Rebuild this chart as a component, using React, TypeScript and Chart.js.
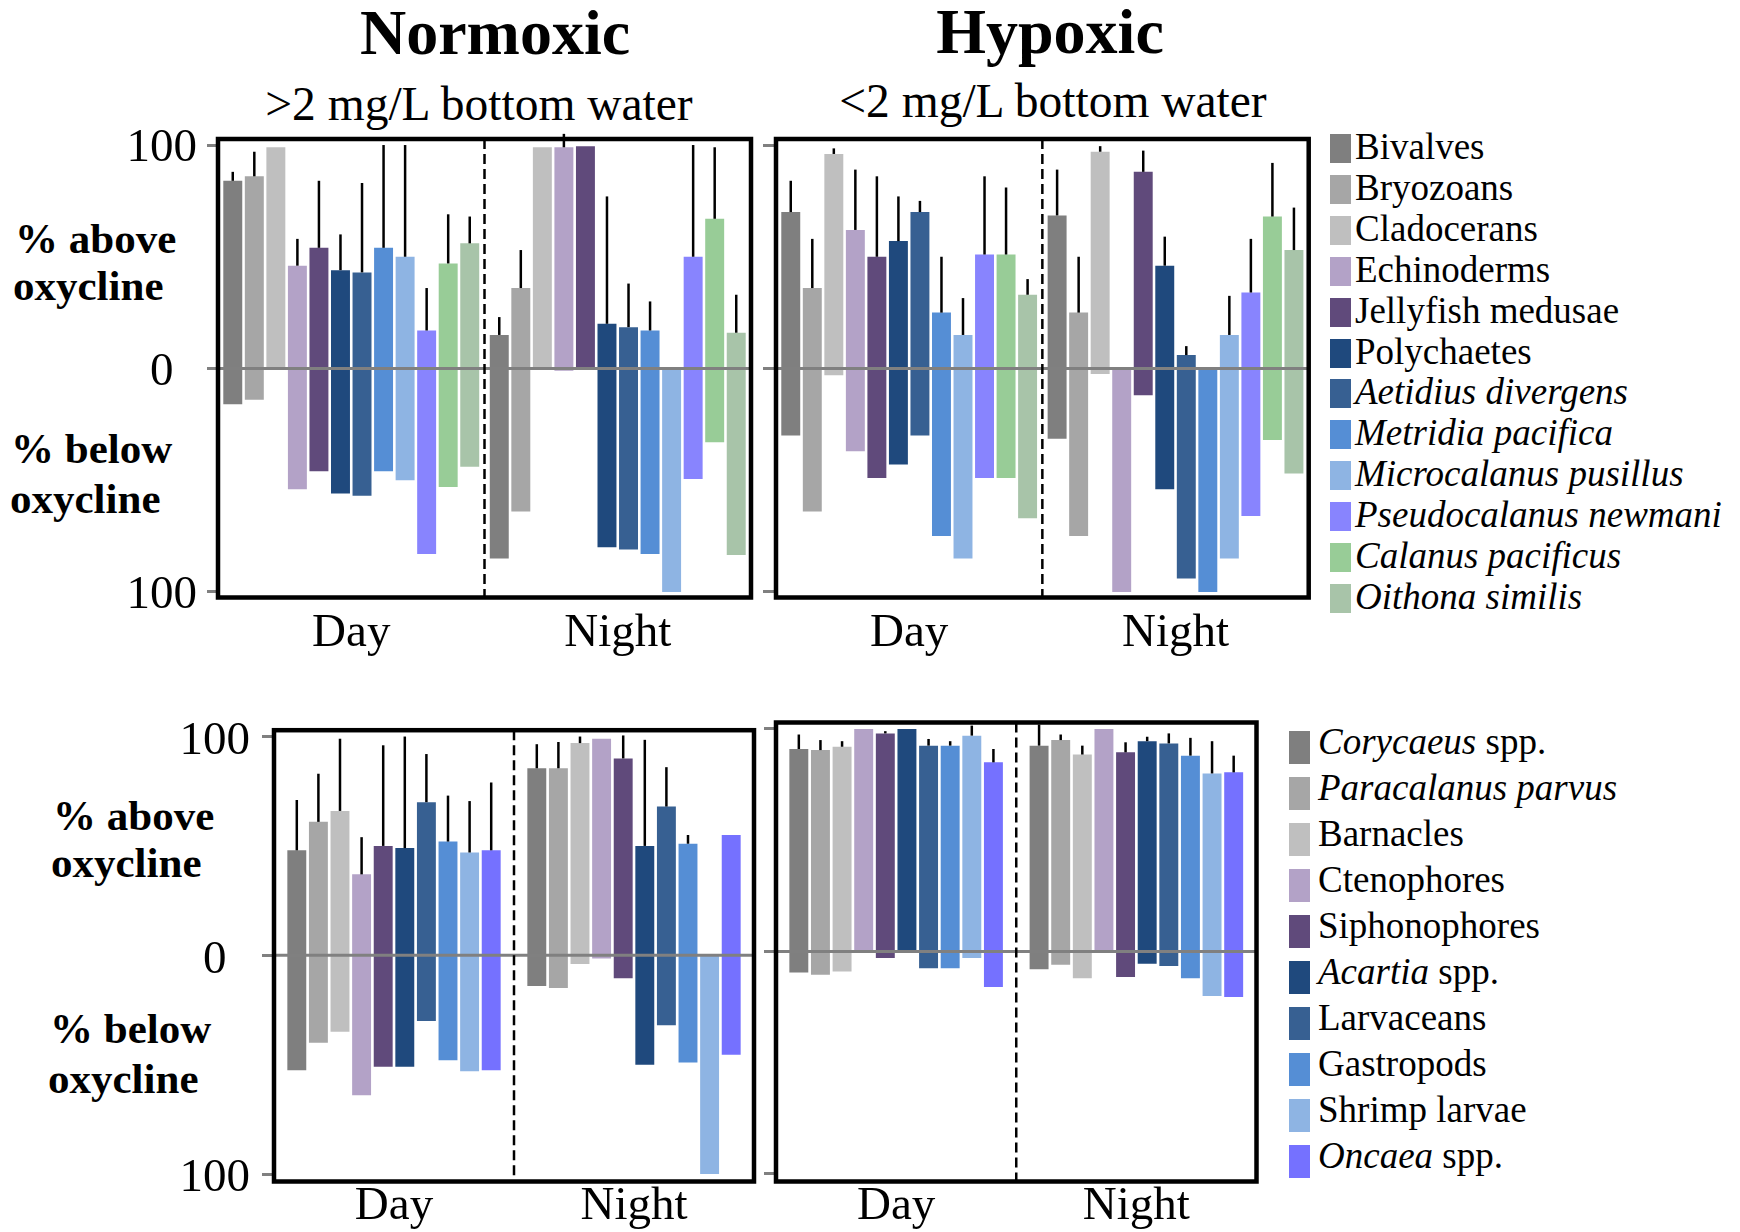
import React, { useEffect, useRef } from "react";
import { Chart, registerables } from "chart.js";

Chart.register(...registerables);

const FONT = "'Liberation Serif', 'Times New Roman', Times, serif";

// ---------- categories & ticks ----------
const periods = ["Day", "Night"];
const yTickValues = [-100, 0, 100];

// ---------- species (asterisks mark italic text) ----------
const topSpecies = [
  "Bivalves", "Bryozoans", "Cladocerans", "Echinoderms", "Jellyfish medusae", "Polychaetes",
  "*Aetidius divergens*", "*Metridia pacifica*", "*Microcalanus pusillus*",
  "*Pseudocalanus newmani*", "*Calanus pacificus*", "*Oithona similis*",
];
const topColors = [
  "#7f7f7f", "#a6a6a6", "#bfbfbf", "#b3a2c7", "#604a7b", "#1f497d",
  "#376092", "#558ed5", "#8eb4e3", "#8884fe", "#98cc97", "#a8c4a9",
];
const bottomSpecies = [
  "*Corycaeus* spp.", "*Paracalanus parvus*", "Barnacles", "Ctenophores", "Siphonophores",
  "*Acartia* spp.", "Larvaceans", "Gastropods", "Shrimp larvae", "*Oncaea* spp.",
];
const bottomColors = [
  "#7f7f7f", "#a6a6a6", "#bfbfbf", "#b3a2c7", "#604a7b",
  "#1f497d", "#376092", "#558ed5", "#8eb4e3", "#7571ff",
];

// ---------- values: % above oxycline (bar top), bar bottom (= -% below), error-bar top ----------
// Top row, Normoxic
const normDayAbove = [84, 86, 99, 46, 54, 44, 43, 54, 50, 17, 47, 56];
const normDayBelow = [-16, -14, 0, -54, -46, -56, -57, -46, -50, -83, -53, -44];
const normDayErr = [88, 97, null, 58, 84, 60, 83, 100, 100, 36, 69, 68];
const normNightAbove = [15, 36, 99, 99, 99.5, 20, 18.5, 17, 0, 50, 67, 16];
const normNightBelow = [-85, -64, 0, -1, 0, -80, -81, -83, -100, -49.5, -33, -83.5];
const normNightErr = [23, 53, null, 105, null, 77, 38, 30, null, 100, 99, 33];
// Top row, Hypoxic
const hypDayAbove = [70, 36, 96, 62, 50, 57, 70, 25, 15, 51, 51, 33];
const hypDayBelow = [-30, -64, -3, -37, -49, -43, -30, -75, -85, -49, -49, -67];
const hypDayErr = [84, 58, 98.5, 89, 86, 77, 75, 50, 31.5, 86, 81, 40];
const hypNightAbove = [68.5, 25, 97, 0, 88, 46, 6, 0, 15, 34, 68, 53];
const hypNightBelow = [-31.5, -75, -2.5, -100, -12, -54, -94, -100, -85, -66, -32, -47];
const hypNightErr = [89, 50, 99.5, null, 97.5, 59, 10, null, 32.5, 58, 92, 72];
// Bottom row, Normoxic
const norm2DayAbove = [48, 61, 66, 37, 50, 49, 70, 52, 47, 48];
const norm2DayBelow = [-52.5, -40, -35, -64, -51, -51, -30, -48, -53, -52.5];
const norm2DayErr = [71, 83, 99, 54, 96, 100, 92, 73, 70.5, 79];
const norm2NightAbove = [85.5, 85.5, 97, 99, 90, 50, 68, 51, 0, 55];
const norm2NightBelow = [-14, -15, -4, -1.5, -10.5, -50, -32, -49, -100, -45.5];
const norm2NightErr = [96.5, 97.5, 100, null, 100.5, 98.5, 86, 55, null, null];
// Bottom row, Hypoxic
const hyp2DayAbove = [91, 90.5, 92, 100, 98, 100, 92.5, 92.5, 97, 85];
const hyp2DayBelow = [-9.5, -10.5, -9, 0, -3, 0, -7.5, -7.5, -3, -16];
const hyp2DayErr = [97.5, 95, 94.5, null, 99, null, 95.5, 94.5, 101.5, 91];
const hyp2NightAbove = [92.5, 95, 88.5, 100, 89.5, 94.5, 93.5, 88, 80, 80.5];
const hyp2NightBelow = [-8, -6, -12, 0, -11.5, -5.5, -6.5, -12, -20, -20.5];
const hyp2NightErr = [102, 97.5, 92.5, null, 94, 96.5, 98, 96, 94.5, 88];

// ---------- plugin: zero line, day/night divider, frame, error bars ----------
const framePlugin = {
  id: "frameAndErrors",
  afterDatasetsDraw(chart: any) {
    const { ctx, chartArea: a, scales } = chart;
    const x = scales.x;
    const y = scales.y;
    ctx.save();
    const y0 = y.getPixelForValue(0);
    ctx.strokeStyle = "#808080";
    ctx.lineWidth = 3;
    ctx.beginPath();
    ctx.moveTo(a.left, y0);
    ctx.lineTo(a.right, y0);
    ctx.stroke();

    const xm = (x.getPixelForValue(0) + x.getPixelForValue(1)) / 2;
    ctx.strokeStyle = "#000";
    ctx.lineWidth = 2.5;
    ctx.setLineDash([10, 5]);
    ctx.beginPath();
    ctx.moveTo(xm, a.top);
    ctx.lineTo(xm, a.bottom);
    ctx.stroke();
    ctx.setLineDash([]);

    ctx.lineWidth = 4.5;
    ctx.strokeRect(a.left, a.top, a.right - a.left, a.bottom - a.top);

    ctx.lineWidth = 2.5;
    chart.data.datasets.forEach((ds: any, i: number) => {
      const meta = chart.getDatasetMeta(i);
      meta.data.forEach((bar: any, j: number) => {
        const e = ds.errTops[j];
        if (e === null || e === undefined) return;
        const top = ds.data[j][1];
        ctx.beginPath();
        ctx.moveTo(bar.x, y.getPixelForValue(top));
        ctx.lineTo(bar.x, y.getPixelForValue(e));
        ctx.stroke();
      });
    });
    ctx.restore();
  },
};

type Series = { above: number[]; below: number[]; err: (number | null)[] };
type Box = {
  left: number; top: number; w: number; h: number;
  padTop: number; padRight: number; yAxisW: number; xAxisH: number;
  yMin: number; yMax: number; showLabels: boolean; tickLen: number; tickPad: number;
  labelOffset: number; xPad: number; catPct: number; barPct: number;
};

function Panel({ species, colors, day, night, box }: { species: string[]; colors: string[]; day: Series; night: Series; box: Box }) {
  const ref = useRef<HTMLCanvasElement>(null);
  useEffect(() => {
    const datasets = species.map((s, i) => ({
      label: s.replace(/\*/g, ""),
      data: [[day.below[i], day.above[i]], [night.below[i], night.above[i]]],
      backgroundColor: colors[i],
      borderWidth: 0,
      categoryPercentage: box.catPct,
      barPercentage: box.barPct,
      errTops: [day.err[i], night.err[i]],
    }));
    const chart = new Chart(ref.current as HTMLCanvasElement, {
      type: "bar",
      data: { labels: periods, datasets: datasets as any },
      options: {
        animation: false,
        responsive: false,
        maintainAspectRatio: false,
        layout: { padding: { top: box.padTop, right: box.padRight, left: 0, bottom: 0 } },
        plugins: { legend: { display: false }, tooltip: { enabled: false } },
        scales: {
          x: {
            grid: { display: false, drawTicks: false },
            border: { display: false },
            ticks: { font: { family: FONT, size: 47 }, color: "#000", padding: box.xPad, maxRotation: 0 },
            afterFit: (s: any) => { s.height = box.xAxisH; },
          },
          y: {
            min: box.yMin,
            max: box.yMax,
            afterBuildTicks: (s: any) => { s.ticks = yTickValues.map((v) => ({ value: v })); },
            grid: {
              display: true,
              drawOnChartArea: false,
              drawTicks: true,
              tickLength: box.tickLen,
              tickColor: "#808080",
              tickWidth: 3,
            },
            border: { display: false },
            ticks: {
              display: box.showLabels,
              font: { family: FONT, size: 47 },
              color: "#000",
              padding: box.tickPad,
              crossAlign: "center",
              labelOffset: box.labelOffset,
              callback: (v: any) => String(Math.abs(Number(v))),
            },
            afterFit: (s: any) => { s.width = box.yAxisW; },
          },
        },
      } as any,
      plugins: [framePlugin],
    });
    return () => chart.destroy();
  }, []);
  return (
    <canvas
      ref={ref}
      width={box.w}
      height={box.h}
      style={{ position: "absolute", left: box.left, top: box.top, width: box.w, height: box.h }}
    />
  );
}

function rich(text: string) {
  return text.split("*").map((part, i) =>
    i % 2 === 1 ? <i key={i}>{part}</i> : <span key={i}>{part}</span>
  );
}

function Txt({ x, baseline, size, bold = false, center = false, children }: any) {
  const style: React.CSSProperties = {
    position: "absolute",
    left: x,
    top: baseline - 0.8375 * size,
    fontFamily: FONT,
    fontSize: size,
    lineHeight: `${size}px`,
    fontWeight: bold ? 700 : 400,
    whiteSpace: "nowrap",
    color: "#000",
    transform: center ? "translateX(-50%)" : undefined,
  };
  return <div style={style}>{children}</div>;
}

function Legend({ items, colors, left, top, step, boxW, boxH, textX, baseOff }: any) {
  return (
    <>
      {items.map((it: string, i: number) => (
        <React.Fragment key={i}>
          <div
            style={{ position: "absolute", left, top: top + i * step, width: boxW, height: boxH, background: colors[i] }}
          />
          <Txt x={textX} baseline={top + i * step + baseOff} size={37}>{rich(it)}</Txt>
        </React.Fragment>
      ))}
    </>
  );
}

const topBase = { yMin: -102.5, yMax: 102.7, xAxisH: 102.5, xPad: 8, catPct: 0.97, barPct: 0.88, tickPad: 10, labelOffset: 4 };
const botBase = { yMin: -103.4, yMax: 102.9, xAxisH: 78.5, xPad: -3, catPct: 0.9, barPct: 0.876, tickPad: 12, labelOffset: 5 };

export default function App() {
  return (
    <div style={{ position: "absolute", left: 0, top: 0, width: 1740, height: 1232, overflow: "hidden", background: "#fff" }}>
      <Txt x={495} baseline={55} size={64} bold center>Normoxic</Txt>
      <Txt x={479} baseline={121} size={47.5} center>&gt;2 mg/L bottom water</Txt>
      <Txt x={1050} baseline={54} size={64} bold center>Hypoxic</Txt>
      <Txt x={1053} baseline={118} size={47.5} center>&lt;2 mg/L bottom water</Txt>

      <Txt x={15} baseline={253} size={43} bold>% above</Txt>
      <Txt x={13} baseline={300} size={43} bold>oxycline</Txt>
      <Txt x={11} baseline={463} size={43} bold>% below</Txt>
      <Txt x={10} baseline={513} size={43} bold>oxycline</Txt>

      <Txt x={53} baseline={830} size={43} bold>% above</Txt>
      <Txt x={51} baseline={877} size={43} bold>oxycline</Txt>
      <Txt x={50} baseline={1043} size={43} bold>% below</Txt>
      <Txt x={48} baseline={1093} size={43} bold>oxycline</Txt>

      <Panel
        species={topSpecies}
        colors={topColors}
        day={{ above: normDayAbove, below: normDayBelow, err: normDayErr }}
        night={{ above: normNightAbove, below: normNightBelow, err: normNightErr }}
        box={{ ...topBase, left: 100, top: 100, w: 670, h: 600, padTop: 39, padRight: 19, yAxisW: 118, showLabels: true, tickLen: 11 }}
      />
      <Panel
        species={topSpecies}
        colors={topColors}
        day={{ above: hypDayAbove, below: hypDayBelow, err: hypDayErr }}
        night={{ above: hypNightAbove, below: hypNightBelow, err: hypNightErr }}
        box={{ ...topBase, left: 740, top: 100, w: 590, h: 600, padTop: 39, padRight: 21.3, yAxisW: 36, showLabels: false, tickLen: 13 }}
      />
      <Panel
        species={bottomSpecies}
        colors={bottomColors}
        day={{ above: norm2DayAbove, below: norm2DayBelow, err: norm2DayErr }}
        night={{ above: norm2NightAbove, below: norm2NightBelow, err: norm2NightErr }}
        box={{ ...botBase, left: 150, top: 690, w: 620, h: 570, padTop: 32.5, padRight: 16, yAxisW: 124, showLabels: true, tickLen: 12 }}
      />
      <Panel
        species={bottomSpecies}
        colors={bottomColors}
        day={{ above: hyp2DayAbove, below: hyp2DayBelow, err: hyp2DayErr }}
        night={{ above: hyp2NightAbove, below: hyp2NightBelow, err: hyp2NightErr }}
        box={{ ...botBase, left: 740, top: 690, w: 540, h: 570, padTop: 32.5, padRight: 23.5, yAxisW: 36, showLabels: false, tickLen: 12 }}
      />

      <Legend items={topSpecies} colors={topColors} left={1330} top={134} step={40.9} boxW={21} boxH={29} textX={1355} baseOff={25} />
      <Legend items={bottomSpecies} colors={bottomColors} left={1289} top={731} step={46} boxW={21} boxH={33} textX={1318} baseOff={23} />
    </div>
  );
}
